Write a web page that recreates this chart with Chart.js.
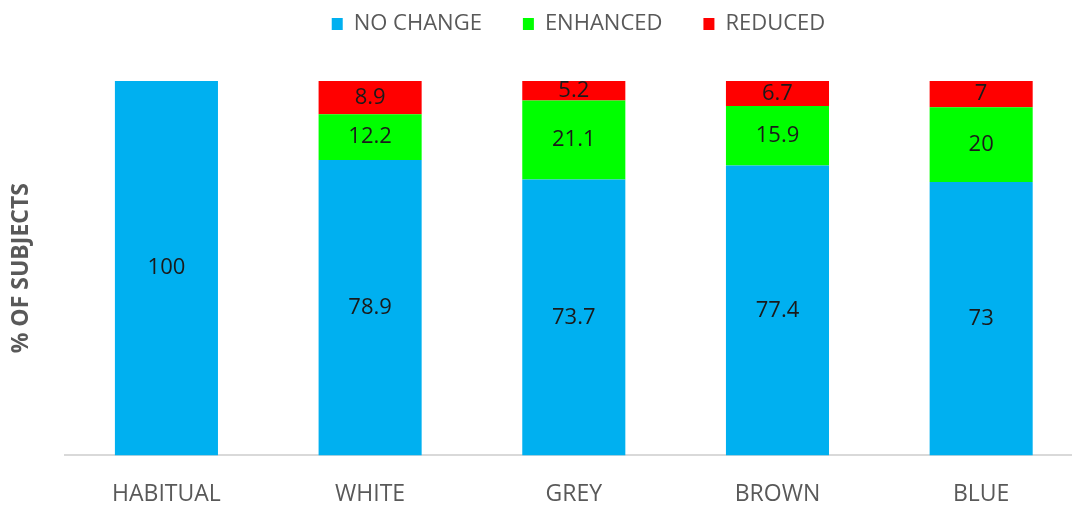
<!DOCTYPE html>
<html>
<head>
<meta charset="utf-8">
<script src="https://cdn.jsdelivr.net/npm/chart.js@4"></script>
<style>
  html, body { margin: 0; padding: 0; background: #fff; overflow: hidden; }
  #wrap { width: 1083px; height: 519px; }
</style>
</head>
<body>
<div id="wrap"><canvas id="chart"></canvas></div>
<script>
const categories = ['HABITUAL', 'WHITE', 'GREY', 'BROWN', 'BLUE'];
const noChange = [100, 78.9, 73.7, 77.4, 73];
const enhanced = [0, 12.2, 21.1, 15.9, 20];
const reduced = [0, 8.9, 5.2, 6.7, 7];

const FONT = "'Open Sans', 'DejaVu Sans', sans-serif";
const GREY_TEXT = '#595959';

// draw the value in the middle of each segment
const barLabels = {
  id: 'barLabels',
  afterDatasetsDraw(chart) {
    const ctx = chart.ctx;
    ctx.save();
    ctx.font = "22px " + FONT;
    ctx.fillStyle = '#1a1a1a';
    ctx.textAlign = 'center';
    ctx.textBaseline = 'middle';
    chart.data.datasets.forEach((ds, i) => {
      chart.getDatasetMeta(i).data.forEach((bar, j) => {
        const v = ds.data[j];
        if (!v) return;
        ctx.fillText(String(v), bar.x, (bar.y + bar.base) / 2);
      });
    });
    ctx.restore();
  }
};

// fixed legend height, then move the legend up and a bit to the right
const legendPlace = {
  id: 'legendPlace',
  beforeInit(chart) {
    const fit = chart.legend.fit;
    chart.legend.fit = function () {
      fit.call(this);
      this.height = 73;
    };
  },
  afterLayout(chart) {
    const lg = chart.legend;
    const dx = 37, top = -28;
    lg.left += dx;
    lg.right += dx;
    lg.bottom += top - lg.top;
    lg.top = top;
  }
};

new Chart(document.getElementById('chart'), {
  type: 'bar',
  data: {
    labels: categories,
    datasets: [
      { label: 'NO CHANGE', data: noChange, backgroundColor: '#00b0f0' },
      { label: 'ENHANCED', data: enhanced, backgroundColor: '#00ff00' },
      { label: 'REDUCED', data: reduced, backgroundColor: '#ff0000' }
    ]
  },
  options: {
    responsive: true,
    maintainAspectRatio: false,
    animation: false,
    layout: { padding: { left: 0, right: 0, top: 8, bottom: -14 } },
    datasets: { bar: { categoryPercentage: 1, barPercentage: 0.506 } },
    plugins: {
      tooltip: { enabled: false },
      legend: {
        position: 'top',
        labels: {
          boxWidth: 11,
          boxHeight: 12,
          color: GREY_TEXT,
          font: { family: FONT, size: 22 },
          padding: 41
        }
      }
    },
    scales: {
      x: {
        stacked: true,
        grid: { display: false, drawTicks: false },
        border: { color: '#d9d9d9', width: 2 },
        ticks: { color: GREY_TEXT, font: { family: FONT, size: 23 }, padding: 25 }
      },
      y: {
        stacked: true,
        min: 0,
        max: 100,
        grid: { display: false, drawTicks: false },
        border: { display: false },
        ticks: { display: false },
        title: {
          display: true,
          text: '% OF SUBJECTS',
          color: GREY_TEXT,
          font: { family: FONT, size: 23, weight: 'bold' },
          padding: { top: 8, bottom: 29 }
        }
      }
    }
  },
  plugins: [barLabels, legendPlace]
});
</script>
</body>
</html>
